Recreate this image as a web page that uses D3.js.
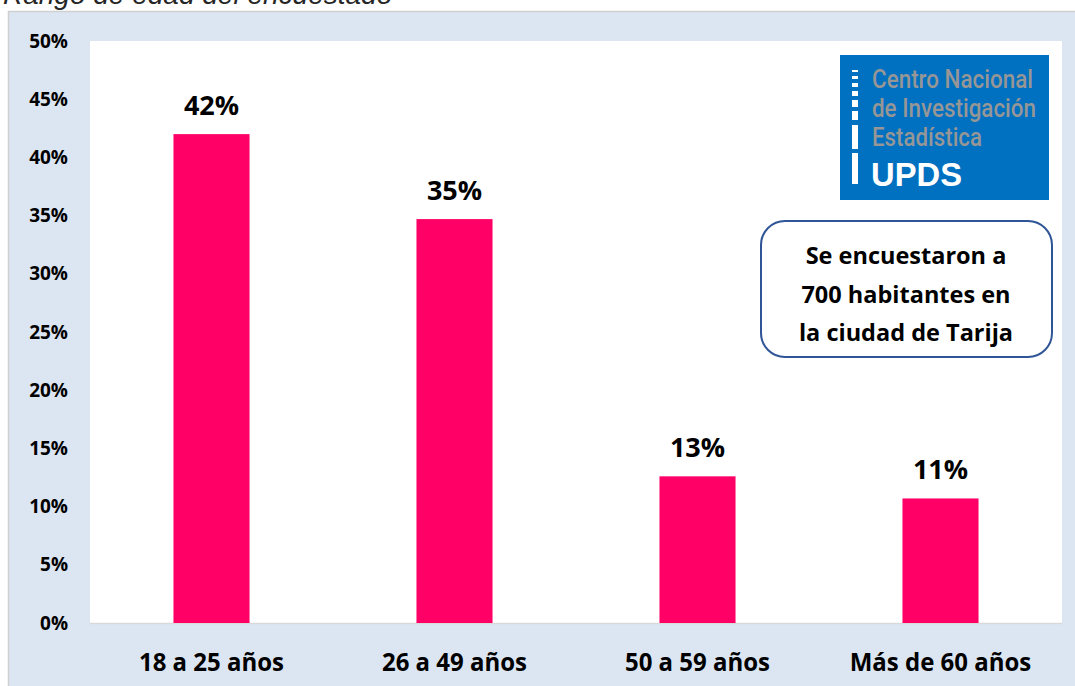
<!DOCTYPE html>
<html><head><meta charset="utf-8">
<script src="https://cdn.jsdelivr.net/npm/d3@7"></script>
<style>html,body{margin:0;padding:0;background:#fff;overflow:hidden}</style>
</head><body>
<svg id="c" width="1075" height="686"></svg>
<script>
const categories = ["18 a 25 años", "26 a 49 años", "50 a 59 años", "Más de 60 años"];
const values = [42.0, 34.7, 12.6, 10.7];
const valueLabels = ["42%", "35%", "13%", "11%"];
const yTicks = [0, 5, 10, 15, 20, 25, 30, 35, 40, 45, 50];
const titleText = "Rango de edad del encuestado";
const noteLines = ["Se encuestaron a", "700 habitantes en", "la ciudad de Tarija"];
const logoLines = ["Centro Nacional", "de Investigación", "Estadística"];

const svg = d3.select("#c");
// outer frame
svg.append("rect").attr("x", 8.5).attr("y", 11.5).attr("width", 1075).attr("height", 690)
  .attr("fill", "#DCE6F2").attr("stroke", "#D0D0D0").attr("stroke-width", 1.5);
// title (cut at top, as in the reference)
svg.append("text").attr("x", 3).attr("y", 4).text(titleText)
  .attr("font-family", "Liberation Sans, Arial, sans-serif").attr("font-style", "italic")
  .attr("font-size", 28).attr("fill", "#262626");

const plot = {x0: 90, x1: 1062, y0: 41, y1: 623};
svg.append("rect").attr("x", plot.x0).attr("y", plot.y0).attr("width", plot.x1 - plot.x0)
  .attr("height", plot.y1 - plot.y0).attr("fill", "#fff");

const x = d3.scaleBand().domain(categories).range([plot.x0, plot.x1]).paddingInner(0.687).paddingOuter(0.3435);
const y = d3.scaleLinear().domain([0, 50]).range([plot.y1, plot.y0]);

// y axis labels
const yAxis = svg.append("g").attr("transform", `translate(${plot.x0 - 22},0)`)
  .call(d3.axisLeft(y).tickValues(yTicks).tickFormat(d => d + "%").tickSize(0).tickPadding(0));
yAxis.select(".domain").remove();
yAxis.selectAll("text").attr("font-family", "Open Sans, sans-serif")
  .attr("font-weight", "bold").attr("font-size", 19).attr("fill", "#000");

// baseline
svg.append("line").attr("x1", plot.x0).attr("x2", plot.x1).attr("y1", plot.y1 + 0.5).attr("y2", plot.y1 + 0.5)
  .attr("stroke", "#D9D9D9").attr("stroke-width", 1.5);

// bars
svg.append("g").selectAll("rect").data(values).join("rect")
  .attr("x", (d, i) => x(categories[i])).attr("width", x.bandwidth())
  .attr("y", d => y(d)).attr("height", d => y(0) - y(d)).attr("fill", "#FF0066");

// value labels
svg.append("g").selectAll("text").data(values).join("text")
  .attr("x", (d, i) => x(categories[i]) + x.bandwidth() / 2).attr("y", d => y(d) - 19)
  .attr("text-anchor", "middle").attr("font-family", "Open Sans, sans-serif").attr("font-weight", "bold")
  .attr("font-size", 27).attr("fill", "#000").text((d, i) => valueLabels[i]);

// x axis labels
const xAxis = svg.append("g").attr("transform", `translate(0,${plot.y1})`)
  .call(d3.axisBottom(x).tickSize(0).tickPadding(0));
xAxis.select(".domain").remove();
xAxis.selectAll("text").attr("font-family", "Open Sans, sans-serif")
  .attr("font-weight", "bold").attr("font-size", 25).attr("fill", "#000")
  .attr("dy", null).attr("y", 48).attr("transform", "scale(0.96,1)");

// logo
const lg = svg.append("g");
lg.append("rect").attr("x", 840).attr("y", 55).attr("width", 209).attr("height", 145).attr("fill", "#0070C0");
const segs = [[70,72],[76,79],[83,87],[91,96],[100,107],[111,120],[125,149],[153,184]];
segs.forEach(s => lg.append("rect").attr("x", 852).attr("y", s[0]).attr("width", 6).attr("height", s[1]-s[0]).attr("fill", "#fff"));
logoLines.forEach((t, i) => lg.append("text").attr("x", 872).attr("y", 88 + i * 29).text(t)
  .attr("font-family", "Roboto, sans-serif").attr("font-weight", 500).attr("font-size", 26)
  .attr("fill", "#969696").attr("textLength", i==0?161:(i==1?164:110)).attr("lengthAdjust", "spacingAndGlyphs"));
lg.append("text").attr("x", 871).attr("y", 186).text("UPDS").attr("font-family", "Liberation Sans, Arial, sans-serif")
  .attr("font-weight", "bold").attr("font-size", 33).attr("fill", "#fff")
  .attr("textLength", 91).attr("lengthAdjust", "spacingAndGlyphs");

// note box
const nb = svg.append("g");
nb.append("rect").attr("x", 761).attr("y", 221).attr("width", 291).attr("height", 136).attr("rx", 24)
  .attr("fill", "#fff").attr("stroke", "#2F5597").attr("stroke-width", 2);
noteLines.forEach((t, i) => nb.append("text").attr("x", 906).attr("y", 264 + i * 38.5).text(t)
  .attr("text-anchor", "middle").attr("font-family", "Open Sans, sans-serif").attr("font-weight", "bold")
  .attr("font-size", 23.5).attr("fill", "#000"));
</script>
</body></html>
